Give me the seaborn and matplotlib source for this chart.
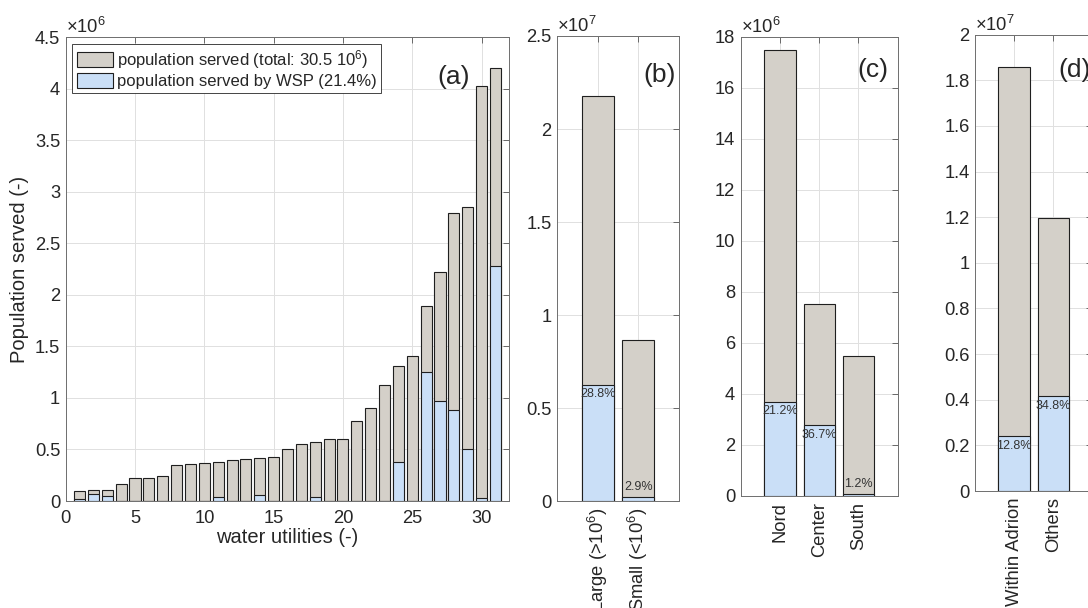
import numpy as np
import pandas as pd
import matplotlib
matplotlib.use("Agg")
import matplotlib.pyplot as plt
from matplotlib.ticker import FuncFormatter, MultipleLocator
import seaborn as sns

# ---------------- data ----------------
utility_id = list(range(1, 32))
util_total_M = [0.097, 0.103, 0.103, 0.168, 0.219, 0.219, 0.242, 0.348, 0.361, 0.365,
                0.377, 0.400, 0.403, 0.419, 0.429, 0.506, 0.552, 0.571, 0.600, 0.600,
                0.777, 0.900, 1.123, 1.310, 1.403, 1.894, 2.218, 2.797, 2.852, 4.023, 4.205]
util_wsp_M = [0.016, 0.065, 0.048, 0.0, 0.0, 0.0, 0.0, 0.0, 0.0, 0.0,
              0.042, 0.0, 0.0, 0.055, 0.0, 0.0, 0.0, 0.042, 0.0, 0.0,
              0.0, 0.0, 0.0, 0.381, 0.0, 1.252, 0.968, 0.887, 0.500, 0.029, 2.283]

size_cats = ["Large (>10$^{6}$)", "Small (<10$^{6}$)"]
size_total = [2.179e7, 0.867e7]
size_wsp = [0.627e7, 0.022e7]
size_pct = ["28.8%", "2.9%"]

region_cats = ["Nord", "Center", "South"]
region_total = [17.49e6, 7.53e6, 5.48e6]
region_wsp = [3.69e6, 2.76e6, 0.066e6]
region_pct = ["21.2%", "36.7%", "1.2%"]

adrion_cats = ["Within Adrion", "Others"]
adrion_total = [1.857e7, 1.195e7]
adrion_wsp = [0.239e7, 0.416e7]
adrion_pct = ["12.8%", "34.8%"]

legend_labels = ["population served (total: 30.5 10$^{6}$)",
                 "population served by WSP (21.4%)"]

# ---------------- style ----------------
sns.set_theme(style="white")
plt.rcParams["font.family"] = ["Liberation Sans", "DejaVu Sans"]
plt.rcParams["mathtext.fontset"] = "custom"
plt.rcParams["mathtext.rm"] = "Liberation Sans"
plt.rcParams["mathtext.it"] = "Liberation Sans:italic"
plt.rcParams["mathtext.default"] = "regular"

GRAY = "#d4d0c9"
BLUE = "#cadff7"
EDGE = "#1f1f1f"
TXT = "#262626"
FS = 13.2
LFS = 14.5

fig = plt.figure(figsize=(10.88, 6.08), dpi=100)
W, H = 1088.0, 608.0


def make_ax(l, t, r, b):
    return fig.add_axes([l / W, 1 - b / H, (r - l) / W, (b - t) / H])


ax_a = make_ax(65.7, 37.3, 509.3, 501.0)
ax_b = make_ax(557.3, 36.0, 678.7, 501.3)
ax_c = make_ax(740.7, 36.7, 897.7, 495.7)
ax_d = make_ax(975.0, 34.7, 1092.3, 491.0)


def style_ax(ax, scale, exp, ystep, ymax, xpad):
    ax.set_ylim(0, ymax)
    ax.yaxis.set_major_locator(MultipleLocator(ystep))
    ax.yaxis.set_major_formatter(FuncFormatter(lambda v, p: f"{v / scale:g}"))
    ax.grid(True, color="#e0e0e0", linewidth=0.7)
    ax.set_axisbelow(True)
    ax.tick_params(direction="in", length=4, width=0.6, top=True, right=True,
                   labelsize=FS, colors="#555555", labelcolor=TXT)
    ax.tick_params(axis="y", pad=4)
    ax.tick_params(axis="x", pad=xpad)
    for s in ax.spines.values():
        s.set_color("#6e6e6e")
        s.set_linewidth(0.7)
        s.set_visible(True)
    ax.text(0.0, 1.0, r"$\times$10$^{%d}$" % exp, transform=ax.transAxes,
            ha="left", va="bottom", fontsize=FS, color=TXT)
    ax.set_xlabel("")
    ax.set_ylabel("")


# ---------------- panel (a) ----------------
df_a = pd.DataFrame({"id": utility_id,
                     "total": np.array(util_total_M) * 1e6,
                     "wsp": np.array(util_wsp_M) * 1e6})
sns.barplot(data=df_a, x="id", y="total", native_scale=True, width=0.8,
            color=GRAY, saturation=1, edgecolor=EDGE, linewidth=0.8,
            errorbar=None, ax=ax_a, label=legend_labels[0])
sns.barplot(data=df_a, x="id", y="wsp", native_scale=True, width=0.8,
            color=BLUE, saturation=1, edgecolor=EDGE, linewidth=0.8,
            errorbar=None, ax=ax_a, label=legend_labels[1])
style_ax(ax_a, 1e6, 6, 0.5e6, 4.5e6, xpad=6.5)
ax_a.set_xlim(0, 32)
ax_a.set_xticks(range(0, 31, 5))
ax_a.set_xticklabels([str(v) for v in range(0, 31, 5)])
ax_a.set_xlabel("water utilities (-)", fontsize=LFS, color=TXT, labelpad=1)
ax_a.set_ylabel("Population served (-)", fontsize=LFS, color=TXT, labelpad=4)
leg = ax_a.legend(loc="upper left", fontsize=12, frameon=True, fancybox=False,
                  framealpha=1, edgecolor="#262626", handlelength=2.2,
                  handleheight=1.0, labelspacing=0.12, handletextpad=0.25,
                  borderpad=0.25, borderaxespad=0.4)
leg.get_frame().set_linewidth(0.6)
for t in leg.get_texts():
    t.set_color(TXT)
ax_a.text(0.874, 0.915, "(a)", transform=ax_a.transAxes, ha="center",
          va="center", fontsize=19, color=TXT)


# ---------------- panels (b)-(d) ----------------
def cat_panel(ax, cats, total, wsp, pct, scale, exp, ystep, ymax, tag, tagx, tagy):
    df = pd.DataFrame({"cat": cats, "total": total, "wsp": wsp})
    sns.barplot(data=df, x="cat", y="total", width=0.8, color=GRAY, saturation=1,
                edgecolor=EDGE, linewidth=0.8, errorbar=None, ax=ax)
    sns.barplot(data=df, x="cat", y="wsp", width=0.8, color=BLUE, saturation=1,
                edgecolor=EDGE, linewidth=0.8, errorbar=None, ax=ax)
    style_ax(ax, scale, exp, ystep, ymax, xpad=4.5)
    n = len(cats)
    ax.set_xlim(-1, n)
    ax.set_xticks(range(n))
    ax.set_xticklabels(cats, rotation=90, ha="center", va="top", fontsize=FS)
    for i, (w, p) in enumerate(zip(wsp, pct)):
        if w / ymax > 0.05:
            ax.annotate(p, (i, w), xytext=(0, -2.5), textcoords="offset points",
                        ha="center", va="top", fontsize=9, color="#333333")
        else:
            ax.annotate(p, (i, w), xytext=(0, 3), textcoords="offset points",
                        ha="center", va="bottom", fontsize=9, color="#333333")
    ax.text(tagx, tagy, tag, transform=ax.transAxes, ha="center", va="center",
            fontsize=19, color=TXT)


cat_panel(ax_b, size_cats, size_total, size_wsp, size_pct, 1e7, 7, 0.5e7, 2.5e7,
          "(b)", 0.846, 0.916)
cat_panel(ax_c, region_cats, region_total, region_wsp, region_pct, 1e6, 6, 2e6, 18e6,
          "(c)", 0.845, 0.927)
cat_panel(ax_d, adrion_cats, adrion_total, adrion_wsp, adrion_pct, 1e7, 7, 0.2e7, 2e7,
          "(d)", 0.85, 0.923)

fig.savefig("out.png", dpi=100)
